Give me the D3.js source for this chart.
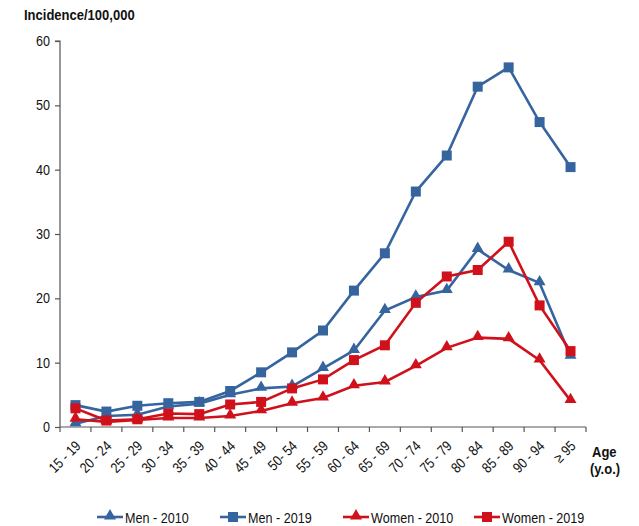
<!DOCTYPE html>
<html><head><meta charset="utf-8">
<script src="https://cdn.jsdelivr.net/npm/d3@7"></script>
<style>
body{margin:0;background:#fff;}
text{font-family:"Liberation Sans Narrow","Arial Narrow","Liberation Sans",Arial,sans-serif;}
</style></head>
<body><svg id="c" width="639" height="526"></svg>
<script>
const categories = ["15 - 19","20 - 24","25 - 29","30 - 34","35 - 39","40 - 44","45 - 49","50- 54","55 - 59","60 - 64","65 - 69","70 - 74","75 - 79","80 - 84","85 - 89","90 - 94","≥ 95"];
const men2010   = [0.5,1.7,1.9,3.2,3.6,5.0,6.0,6.3,9.1,11.9,18.1,20.2,21.2,27.6,24.4,22.4,11.0];
const men2019   = [3.4,2.4,3.3,3.7,3.9,5.6,8.5,11.6,15.0,21.2,27.0,36.6,42.2,52.9,55.9,47.4,40.4];
const women2010 = [1.2,0.8,1.1,1.4,1.4,1.7,2.5,3.7,4.5,6.4,7.0,9.5,12.3,13.9,13.7,10.4,4.1];
const women2019 = [2.9,1.0,1.2,2.1,2.0,3.5,3.9,6.0,7.4,10.4,12.7,19.3,23.4,24.4,28.8,18.9,11.8];
const yTicks = [0,10,20,30,40,50,60];
const seriesNames = ["Men - 2010","Men - 2019","Women - 2010","Women - 2019"];

const BLUE = "#36649f", RED = "#d0111b";
const series = [
  {name:seriesNames[0], values:men2010, color:BLUE, shape:"tri"},
  {name:seriesNames[1], values:men2019, color:BLUE, shape:"sq"},
  {name:seriesNames[2], values:women2010, color:RED, shape:"tri"},
  {name:seriesNames[3], values:women2019, color:RED, shape:"sq"}
];
const SX = 0.84; // condensed look

const svg = d3.select("#c");
const L = 60, R = 586, T = 41, B = 427;
const x = d3.scaleBand().domain(categories).range([L, R]);
const y = d3.scaleLinear().domain([0, 60]).range([B, T]);

function ctext(parent, tx, ty, str, opts){
  opts = opts || {};
  const t = parent.append("text")
    .attr("transform", `translate(${tx},${ty})${opts.rot!==undefined?` rotate(${opts.rot})`:""} scale(${SX},1)`)
    .attr("font-size", opts.size || 14.5).attr("fill","#111")
    .attr("text-anchor", opts.anchor || "start").text(str);
  if (opts.bold) t.attr("font-weight","bold");
  return t;
}

// y axis
const ya = svg.append("g").attr("transform", `translate(${L},0)`)
  .call(d3.axisLeft(y).tickValues(yTicks).tickSize(5).tickFormat(""));
ya.selectAll("path,line").attr("stroke","#555").attr("stroke-width",1.2);
ya.select(".domain").attr("d", `M-5,${T}H0V${B}`);
yTicks.forEach(v => ctext(svg, L-10, y(v)+5, String(v), {anchor:"end", size:15}));

// x axis
const xa = svg.append("g").attr("transform", `translate(0,${B})`);
xa.append("line").attr("x1",L).attr("x2",R).attr("stroke","#555").attr("stroke-width",1.2);
const bounds = categories.map(c => x(c)).concat([R]);
xa.selectAll("line.tk").data(bounds).join("line").attr("class","tk")
  .attr("x1",d=>d).attr("x2",d=>d).attr("y1",0).attr("y2",5).attr("stroke","#555").attr("stroke-width",1.2);
categories.forEach(c => ctext(xa, x(c)+x.bandwidth()/2+6, 20, c, {rot:-45, anchor:"end", size:14.5}));

// titles
ctext(svg, 24, 20, "Incidence/100,000", {bold:true, size:15.5});
ctext(svg, 592, 457, "Age", {bold:true, size:15.5});
ctext(svg, 590, 474, "(y.o.)", {bold:true, size:15.5});

const triSym = d3.symbol().type(d3.symbolTriangle).size(62);
const sqSym = d3.symbol().type(d3.symbolSquare).size(100);
function drawMarker(g, shape, color){
  g.append("path").attr("d", shape==="tri" ? triSym() : sqSym()).attr("fill", color)
   .attr("transform", shape==="tri" ? "translate(0,-1)" : null);
}

const line = d3.line().x((d,i)=>x(categories[i])+x.bandwidth()/2).y(d=>y(d));
series.forEach(s => {
  svg.append("path").datum(s.values).attr("d", line).attr("fill","none")
    .attr("stroke", s.color).attr("stroke-width",2.6);
});
series.forEach(s => {
  s.values.forEach((v,i) => {
    const g = svg.append("g").attr("transform", `translate(${x(categories[i])+x.bandwidth()/2},${y(v)})`);
    drawMarker(g, s.shape, s.color);
  });
});

// legend
const legX = [97, 220, 343, 474];
series.forEach((s,i) => {
  const g = svg.append("g").attr("transform", `translate(${legX[i]},517)`);
  g.append("line").attr("x1",0).attr("x2",26).attr("stroke",s.color).attr("stroke-width",2.6);
  const m = g.append("g").attr("transform","translate(13,0)");
  drawMarker(m, s.shape, s.color);
  ctext(g, 28, 5.5, s.name, {size:15});
});
</script></body></html>
